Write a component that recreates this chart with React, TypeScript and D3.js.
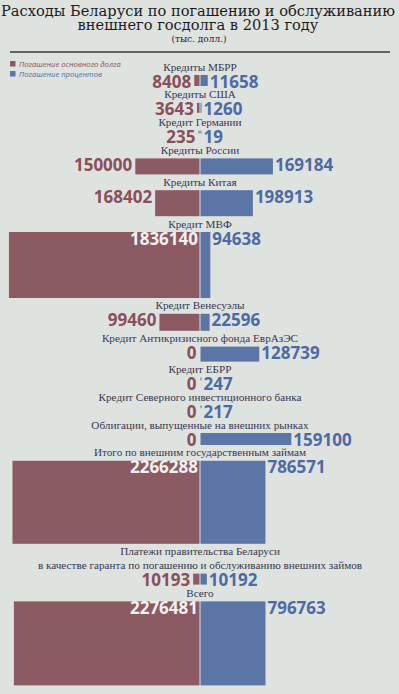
import React, { useEffect, useRef } from 'react';
import * as d3 from 'd3';

const titleLines = ['Расходы Беларуси по погашению и обслуживанию', 'внешнего госдолга в 2013 году'];
const subtitle = '(тыс. долл.)';
const legendLabels = ['Погашение основного долга', 'Погашение процентов'];

// each category may span more than one line of text
const categories = [
  ['Кредиты МБРР'],
  ['Кредиты США'],
  ['Кредит Германии'],
  ['Кредиты России'],
  ['Кредиты Китая'],
  ['Кредит МВФ'],
  ['Кредит Венесуэлы'],
  ['Кредит Антикризисного фонда ЕврАзЭС'],
  ['Кредит ЕБРР'],
  ['Кредит Северного инвестиционного банка'],
  ['Облигации, выпущенные на внешних рынках'],
  ['Итого по внешним государственным займам'],
  ['Платежи правительства Беларуси', 'в качестве гаранта по погашению и обслуживанию внешних займов'],
  ['Всего'],
];
const principal = [8408, 3643, 235, 150000, 168402, 1836140, 99460, 0, 0, 0, 0, 2266288, 10193, 2276481];
const interest = [11658, 1260, 19, 169184, 198913, 94638, 22596, 128739, 247, 217, 159100, 786571, 10192, 796763];

// layout: height of each row's bars, bar width = area / height
const bandHeights = [11, 10, 3, 16, 26, 66, 17, 15, 3, 3, 12, 83, 11, 84];

const W = 399;
const H = 694;
const RED = '#8b5a63';
const BLUE = '#5b75a7';
const RED_TXT = '#8a4f5a';
const BLUE_TXT = '#4e6aa4';
const LABEL = '#3a3750';

const App = () => {
  const ref = useRef<SVGSVGElement | null>(null);

  useEffect(() => {
    if (!ref.current) return;
    const svg = d3.select(ref.current);
    svg.selectAll('*').remove();

    svg.append('rect').attr('width', W).attr('height', H).attr('fill', '#dee3e0');

    titleLines.forEach((t, i) => {
      svg
        .append('text')
        .attr('x', 198)
        .attr('y', 16 + i * 14.3)
        .attr('text-anchor', 'middle')
        .attr('font-family', 'DejaVu Serif')
        .attr('font-size', 14.6)
        .attr('fill', '#1c1c1c')
        .text(t);
    });
    svg
      .append('text')
      .attr('x', 199)
      .attr('y', 42)
      .attr('text-anchor', 'middle')
      .attr('font-family', 'DejaVu Serif')
      .attr('font-size', 9)
      .attr('fill', '#1c1c1c')
      .text(subtitle);

    svg.append('line').attr('x1', 10).attr('x2', 390).attr('y1', 52).attr('y2', 52).attr('stroke', '#3a3a3a').attr('stroke-width', 1.3);

    legendLabels.forEach((t, i) => {
      svg
        .append('rect')
        .attr('x', 10)
        .attr('y', 61 + i * 10)
        .attr('width', 5.5)
        .attr('height', 5.5)
        .attr('fill', i === 0 ? RED : BLUE);
      svg
        .append('text')
        .attr('x', 19)
        .attr('y', 66.5 + i * 10)
        .attr('font-family', 'Open Sans')
        .attr('font-style', 'italic')
        .attr('font-size', 7.6)
        .attr('fill', i === 0 ? RED_TXT : BLUE_TXT)
        .text(t);
    });

    const cx = 200;
    // one square pixel stands for about 146 thousand dollars
    const area = d3.scaleLinear().domain([0, 146]).range([0, 1]);
    const digitW = 9.7;

    let top = 75;
    categories.forEach((lines, i) => {
      const n = lines.length;
      lines.forEach((l, j) => {
        svg
          .append('text')
          .attr('x', cx)
          .attr('y', top - 4.5 - (n - 1 - j) * 14)
          .attr('text-anchor', 'middle')
          .attr('font-family', 'Liberation Serif')
          .attr('font-size', 11.2)
          .attr('fill', LABEL)
          .text(l);
      });

      const h = bandHeights[i];
      const wl = principal[i] ? Math.max(1, area(principal[i]) / h) : 0;
      const wr = interest[i] ? Math.max(1, area(interest[i]) / h) : 0;

      if (wl > 0) {
        svg
          .append('rect')
          .attr('x', cx - 0.5 - wl)
          .attr('y', top)
          .attr('width', wl)
          .attr('height', h)
          .attr('fill', RED);
      }
      if (wr > 0) {
        svg
          .append('rect')
          .attr('x', cx + 0.5)
          .attr('y', top)
          .attr('width', wr)
          .attr('height', h)
          .attr('fill', BLUE);
      }

      const lText = String(principal[i]);
      const lEdge = cx - 0.5 - wl;
      const inside = lEdge - 3 - lText.length * digitW < 4;
      svg
        .append('text')
        .attr('x', inside ? cx - 2 : lEdge - 3)
        .attr('y', top + 12.5)
        .attr('text-anchor', 'end')
        .attr('font-family', 'Open Sans')
        .attr('font-weight', 700)
        .attr('font-size', 17)
        .attr('fill', inside ? '#f4f1f1' : RED_TXT)
        .text(lText);

      svg
        .append('text')
        .attr('x', cx + 0.5 + wr + 2)
        .attr('y', top + 12.5)
        .attr('text-anchor', 'start')
        .attr('font-family', 'Open Sans')
        .attr('font-weight', 700)
        .attr('font-size', 17)
        .attr('fill', BLUE_TXT)
        .text(String(interest[i]));

      if (i + 1 < categories.length) {
        top += Math.max(h, 12) + 15.8 + (categories[i + 1].length - 1) * 14;
      }
    });
  }, []);

  return <svg ref={ref} width={W} height={H} style={{ position: 'absolute', left: 0, top: 0 }} />;
};

export default App;
